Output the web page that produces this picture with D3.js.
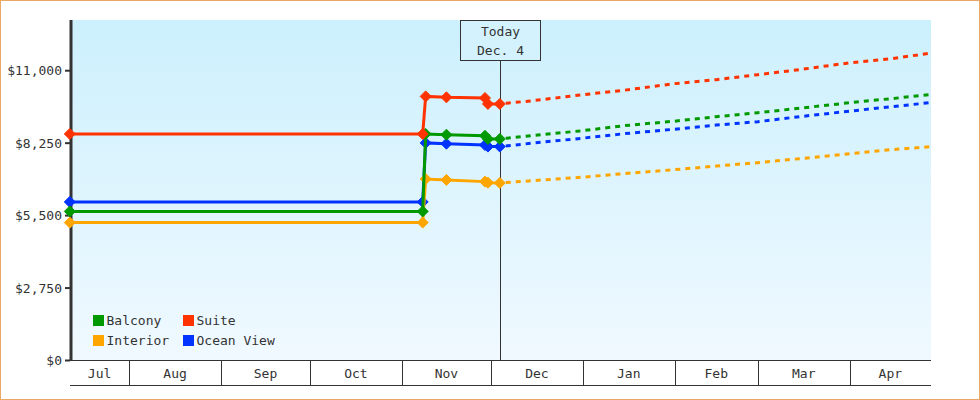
<!DOCTYPE html>
<html>
<head>
<meta charset="utf-8">
<script src="https://cdn.jsdelivr.net/npm/d3@7"></script>
<style>
html,body{margin:0;padding:0;background:#fff;}
svg{display:block;}
text{font-family:"DejaVu Sans Mono","Liberation Mono",monospace;font-size:13px;fill:#333;}
</style>
</head>
<body>
<svg id="chart" width="980" height="400"></svg>
<script>
// ---- data ----
const monthLabels = ["Jul","Aug","Sep","Oct","Nov","Dec","Jan","Feb","Mar","Apr"];
const yTicks = [0, 2750, 5500, 8250, 11000];
const histDates = ["2014-07-12","2014-11-08","2014-11-09","2014-11-16","2014-11-29","2014-11-30","2014-12-04"];
const forecastDates = ["2014-12-04","2014-12-15","2015-01-01","2015-01-15","2015-02-01","2015-02-15","2015-03-01","2015-03-15","2015-04-01","2015-04-15","2015-04-28"];
const seriesNames = ["Balcony","Suite","Interior","Ocean View"];
const balconyHist  = [5660, 5660, 8600, 8570, 8530, 8410, 8410];
const suiteHist    = [8600, 8600, 10025, 9990, 9965, 9740, 9740];
const interiorHist = [5235, 5235, 6890, 6855, 6790, 6750, 6740];
const oceanHist    = [6020, 6020, 8260, 8230, 8180, 8120, 8120];
const balconyFc  = [8410, 8535, 8725, 8915, 9085, 9255, 9405, 9575, 9785, 9940, 10090];
const suiteFc    = [9740, 9860, 10090, 10260, 10510, 10660, 10850, 11040, 11300, 11455, 11665];
const interiorFc = [6740, 6825, 6960, 7095, 7245, 7380, 7510, 7660, 7850, 8005, 8115];
const oceanFc    = [8120, 8250, 8440, 8610, 8780, 8935, 9065, 9255, 9465, 9635, 9785];
const todayDate = "2014-12-04";
const todayLabel = ["Today", "Dec. 4"];
const yMax = 12925;

// ---- setup ----
const parse = d3.timeParse("%Y-%m-%d");
const colors = {"Balcony":"#009900","Suite":"#ff3300","Interior":"#ffa500","Ocean View":"#0033ff"};
const series = [
  {name:"Ocean View", hist:oceanHist, fc:oceanFc},
  {name:"Interior", hist:interiorHist, fc:interiorFc},
  {name:"Balcony", hist:balconyHist, fc:balconyFc},
  {name:"Suite", hist:suiteHist, fc:suiteFc}
];
const hd = histDates.map(parse), fd = forecastDates.map(parse);
const pL = 70, pR = 931, pT = 20, pB = 360.5;
const x = d3.scaleTime().domain([hd[0], fd[fd.length-1]]).range([69.8, 929.8]);
const y = d3.scaleLinear().domain([0, yMax]).range([pB, pT]);

const svg = d3.select("#chart");
const defs = svg.append("defs");
const grad = defs.append("linearGradient").attr("id","bg").attr("x1",0).attr("y1",0).attr("x2",0).attr("y2",1);
grad.append("stop").attr("offset","0%").attr("stop-color","#ccf0fd");
grad.append("stop").attr("offset","100%").attr("stop-color","#f0f9ff");

svg.append("rect").attr("x",0.5).attr("y",0.5).attr("width",979).attr("height",399)
  .attr("fill","#fff").attr("stroke","#e9a865").attr("stroke-width",1);

svg.append("rect").attr("x",pL).attr("y",pT).attr("width",pR-pL).attr("height",pB-pT)
  .attr("fill","url(#bg)");

// x axis band
const monthStarts = d3.timeMonth.range(d3.timeMonth.floor(x.domain()[0]), x.domain()[1]);
const gx = svg.append("g");
gx.append("line").attr("x1",pL).attr("x2",pR).attr("y1",360.5).attr("y2",360.5).attr("stroke","#333");
gx.append("line").attr("x1",pL).attr("x2",pR).attr("y1",385.5).attr("y2",385.5).attr("stroke","#333");
monthStarts.forEach((m,i) => {
  const s = Math.max(x(m), pL);
  const nextM = d3.timeMonth.offset(m,1);
  const e = Math.min(x(nextM), pR);
  if (x(m) > pL) {
    gx.append("line").attr("x1",Math.round(s)+0.5).attr("x2",Math.round(s)+0.5).attr("y1",360).attr("y2",385)
      .attr("stroke","#333");
  }
  gx.append("text").attr("x",(s+e)/2).attr("y",378).attr("text-anchor","middle").text(monthLabels[i]);
});

// y axis
const gy = svg.append("g");
gy.append("line").attr("x1",71).attr("x2",71).attr("y1",pT).attr("y2",361).attr("stroke","#333").attr("stroke-width",3);
yTicks.forEach(t => {
  const yy = y(t);
  gy.append("line").attr("x1",65).attr("x2",70).attr("y1",yy).attr("y2",yy).attr("stroke","#333").attr("stroke-width",2);
  gy.append("text").attr("x",62).attr("y",yy+4.5).attr("text-anchor","end").text("$"+d3.format(",")(t));
});

// today marker
const tx = Math.round(x(parse(todayDate)))+0.5;
svg.append("line").attr("x1",tx).attr("x2",tx).attr("y1",60).attr("y2",360).attr("stroke","#333");
svg.append("rect").attr("x",tx-40).attr("y",20.5).attr("width",80).attr("height",40)
  .attr("fill","#d3f2fd").attr("stroke","#333");
svg.append("text").attr("x",tx).attr("y",36).attr("text-anchor","middle").text(todayLabel[0]);
svg.append("text").attr("x",tx).attr("y",54.5).attr("text-anchor","middle").text(todayLabel[1]);

// lines
const line = d3.line().x(d => x(d[0])).y(d => y(d[1]));
series.forEach(s => {
  const c = colors[s.name];
  const hp = hd.map((d,i) => [d, s.hist[i]]);
  const fp = fd.map((d,i) => [d, s.fc[i]]);
  svg.append("path").attr("d", line(fp)).attr("fill","none").attr("stroke",c)
    .attr("stroke-width",3).attr("stroke-dasharray","5,5").attr("stroke-dashoffset",-6);
  svg.append("path").attr("d", line(hp)).attr("fill","none").attr("stroke",c).attr("stroke-width",3);
  svg.selectAll(null).data(hp).enter().append("path")
    .attr("transform", d => `translate(${x(d[0])},${y(d[1])})`)
    .attr("d","M0,-5.5L5.5,0L0,5.5L-5.5,0Z").attr("fill",c).attr("stroke",c).attr("stroke-width",1).attr("stroke-linejoin","round");
});

// legend
const legendPos = [[93,315],[183,315],[93,335],[183,335]];
seriesNames.forEach((n,i) => {
  const [lx,ly] = legendPos[i];
  svg.append("rect").attr("x",lx).attr("y",ly).attr("width",11).attr("height",11).attr("fill",colors[n]);
  svg.append("text").attr("x",lx+13.5).attr("y",ly+10).text(n);
});
</script>
</body>
</html>
